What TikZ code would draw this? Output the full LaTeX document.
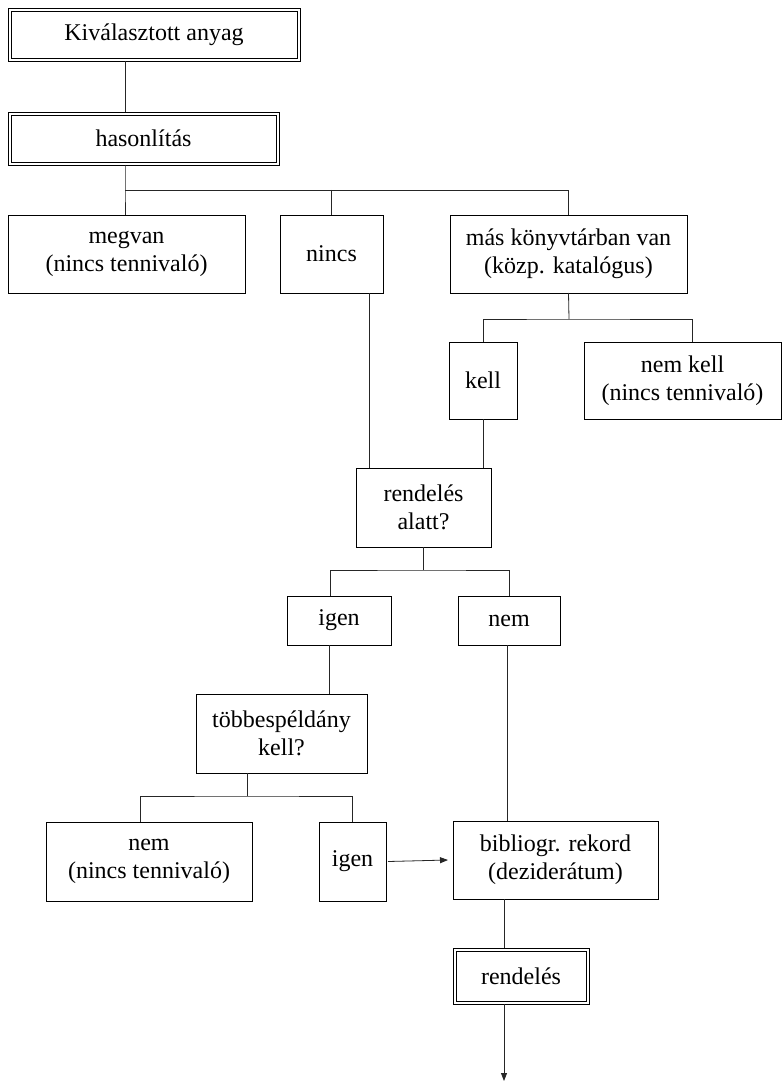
\documentclass[tikz,border=0pt]{standalone}
\usepackage{fontspec}
\setmainfont{Liberation Serif}
\usepackage{tikz}
\usetikzlibrary{arrows.meta, positioning, calc}

\begin{document}
\begin{tikzpicture}[
    x=1pt, y=-1pt,
    font=\fontsize{24}{28}\selectfont,
    box/.style={draw, line width=0.9pt, inner sep=0pt, outer sep=0pt, align=center},
    link/.style={draw, line width=0.8pt, black!85},
    arrow/.style={link, -{Triangle[length=8pt, width=6pt]}}
]
\useasboundingbox (0,0) rectangle (782,1083);

% Top
\node[box, minimum width=292pt, minimum height=53pt] (anyag) at (154,34.5) {Kiválasztott anyag};
\node[box, minimum width=271pt, minimum height=53pt] (hason) at (143.5,138.5) {hasonlítás};

% First branch
\node[box, minimum width=237pt, minimum height=78pt] (megvan) at (126.5,254) {megvan\\(nincs tennivaló)};
\node[box, minimum width=103pt, minimum height=78pt] (nincs) at (331.5,254) {nincs};
\node[box, minimum width=237pt, minimum height=78pt] (mas) at (568.5,254) {más könyvtárban van\\(közp. katalógus)};

% Other library
\node[box, minimum width=68pt, minimum height=77pt] (kell) at (483,380.5) {kell};
\node[box, minimum width=197pt, minimum height=77pt] (nemkell) at (682.5,380.5) {nem kell\\(nincs tennivaló)};

% On order?
\node[box, minimum width=135pt, minimum height=79pt] (alatt) at (423.5,507.5) {rendelés\\alatt?};
\node[box, minimum width=104pt, minimum height=49pt] (igenA) at (339,620.5) {igen};
\node[box, minimum width=102pt, minimum height=49pt] (nemA) at (509,620.5) {nem};

% Multiple copies?
\node[box, minimum width=171pt, minimum height=79pt] (tobb) at (281.5,733.5) {többespéldány\\kell?};
\node[box, minimum width=206pt, minimum height=79pt] (nemB) at (149,861.5) {nem\\(nincs tennivaló)};
\node[box, minimum width=67pt, minimum height=79pt] (igenB) at (352.5,861.5) {igen};

% Record and order
\node[box, minimum width=205pt, minimum height=78pt] (biblio) at (555.5,860) {bibliogr. rekord\\(deziderátum)};
\node[box, minimum width=136pt, minimum height=56pt] (rend) at (521,976) {rendelés};
\coordinate (vege) at (504,1081);

% Inner frames of the double boxes
\foreach \n in {anyag,hason,rend}
  \draw[line width=0.9pt] ($(\n.north west)+(3,3)$) rectangle ($(\n.south east)+(-3,-3)$);

% Junctions
\coordinate (j1) at (125,190);
\coordinate (j2) at (569,319);
\coordinate (j3) at (423.5,570);
\coordinate (j4) at (247,796);

% Connectors
\draw[link] (anyag.south -| j1) -- (hason.north -| j1);
\draw[link] (hason.south -| j1) -- (j1) -- (megvan.north -| j1);
\draw[link] (j1) -| (mas.north);
\draw[link] (nincs.north |- j1) -- (nincs.north);
\draw[link] (mas.south) -- (j2);
\draw[link] (kell.north) |- (j2) -| ([xshift=10pt]nemkell.north);
\draw[link] ([xshift=-14pt]nincs.south east) -- ([xshift=-14pt]nincs.south east |- alatt.north);
\draw[link] (kell.south) -- (kell.south |- alatt.north);
\draw[link] (alatt.south) -- (j3);
\draw[link] ([xshift=-9pt]igenA.north) |- (j3) -| (nemA.north);
\draw[link] ([xshift=-10pt]igenA.south) -- ([xshift=-10pt]igenA.south |- tobb.north);
\draw[link] ([xshift=-2pt]nemA.south) -- ([xshift=-2pt]nemA.south |- biblio.north);
\draw[link] (tobb.south -| j4) -- (j4);
\draw[link] ([xshift=-9pt]nemB.north) |- (j4) -| (igenB.north);
\draw[arrow] ([xshift=2pt]igenB.east) -- ([xshift=-5pt]biblio.west);
\draw[link] (biblio.south -| vege) -- (rend.north -| vege);
\draw[arrow] (rend.south -| vege) -- (vege);
\end{tikzpicture}
\end{document}
